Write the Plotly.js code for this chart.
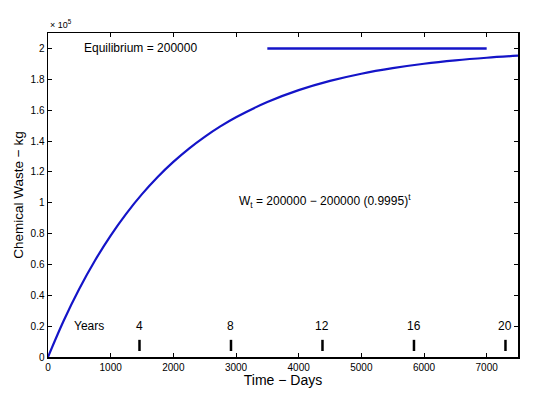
<!DOCTYPE html>
<html><head><meta charset="utf-8">
<script src="https://cdn.plot.ly/plotly-3.0.1.min.js"></script>
<style>body{margin:0;background:#fff}#c{width:550px;height:395px}</style>
</head><body><div id="c"></div>
<script>
// Curve values (days, kg)
var days = [0,250,500,750,1000,1250,1500,1750,2000,2250,2500,2750,3000,3500,4000,4500,5000,5500,6000,6500,7000,7500];
var waste = [0,23500,44250,62550,78700,92950,105550,116700,126450,135100,142700,149450,155400,165250,172950,178950,183600,187200,190050,192250,193950,195300];
var eqDays = [3500,7000];
var eqWaste = [200000,200000];
var yearLabels = ["4","8","12","16","20"];
var yearDays = [1460,2920,4380,5840,7300];
var yearTextLevel = 20000;
var yearMarkLevel = 7500;
var yTickVals = [0,20000,40000,60000,80000,100000,120000,140000,160000,180000,200000];
var yTickText = ["0","0.2","0.4","0.6","0.8","1","1.2","1.4","1.6","1.8","2"];
var xTickVals = [0,1000,2000,3000,4000,5000,6000,7000];

var blue = '#1414c8';
var traces = [
  {x: days, y: waste, mode:'lines', line:{color:blue, width:2.2, shape:'spline', smoothing:1}, hoverinfo:'skip'},
  {x: eqDays, y: eqWaste, mode:'lines', line:{color:blue, width:2.5}, hoverinfo:'skip'},
  {x: yearDays, y: yearDays.map(function(){return yearMarkLevel;}), mode:'markers',
   marker:{symbol:'line-ns-open', size:8, color:'#000', line:{color:'#000', width:2.5}}, hoverinfo:'skip'}
];
var anns = [
  {x:0, y:1, xref:'paper', yref:'paper', xanchor:'left', yanchor:'bottom', yshift:1, showarrow:false,
   text:'× 10<sup>5</sup>', font:{size:9, color:'#000'}},
  {x:1470, y:200000, xref:'x', yref:'y', showarrow:false, text:'Equilibrium = 200000', font:{size:12, color:'#000'}},
  {x:4420, y:101000, xref:'x', yref:'y', showarrow:false, text:'W<sub>t</sub> = 200000 − 200000 (0.9995)<sup>t</sup>', font:{size:12, color:'#000'}},
  {x:660, y:yearTextLevel, xref:'x', yref:'y', showarrow:false, text:'Years', font:{size:12, color:'#000'}}
];
yearLabels.forEach(function(l,i){
  anns.push({x:yearDays[i], y:yearTextLevel, xref:'x', yref:'y', showarrow:false, text:l, font:{size:12, color:'#000'}});
});
var layout = {
  width:550, height:395, showlegend:false,
  paper_bgcolor:'#fff', plot_bgcolor:'#fff',
  font:{family:'Liberation Sans, Arial, sans-serif', color:'#000', size:10},
  margin:{l:48, r:32, t:33, b:38},
  xaxis:{range:[0,7500], tickvals:xTickVals, ticks:'inside', ticklen:4, tickcolor:'#000',
    showline:true, linecolor:'#000', linewidth:1.5, mirror:'ticks', showgrid:false, zeroline:false,
    tickfont:{size:10}, title:{text:'Time − Days', font:{size:14}, standoff:2}},
  yaxis:{range:[0,210000], tickvals:yTickVals, ticktext:yTickText, ticks:'inside', ticklen:4, tickcolor:'#000',
    showline:true, linecolor:'#000', linewidth:1.5, mirror:'ticks', showgrid:false, zeroline:false,
    tickfont:{size:10}, title:{text:'Chemical Waste − kg', font:{size:13.5}, standoff:4}},
  annotations: anns
};
Plotly.newPlot('c', traces, layout, {staticPlot:true});
</script></body></html>
